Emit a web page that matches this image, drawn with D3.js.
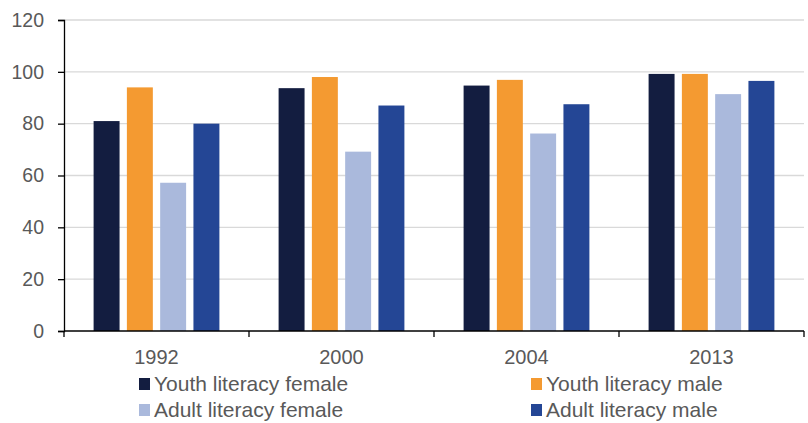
<!DOCTYPE html>
<html>
<head>
<meta charset="utf-8">
<script src="https://cdn.jsdelivr.net/npm/d3@7"></script>
<style>
  body { margin: 0; background: #fff; }
  text { font-family: "Liberation Sans", Arial, sans-serif; }
</style>
</head>
<body>
<div id="chart"></div>
<script>
// data
const years = ["1992", "2000", "2004", "2013"];
const seriesNames = ["Youth literacy female", "Youth literacy male", "Adult literacy female", "Adult literacy male"];
const youthFemale = [81, 93.7, 94.7, 99.2];
const youthMale = [94, 98, 96.9, 99.2];
const adultFemale = [57.2, 69.2, 76.2, 91.4];
const adultMale = [80, 87, 87.5, 96.5];
const yTicks = [0, 20, 40, 60, 80, 100, 120];

const colors = ["#131d40", "#f49a31", "#aab9dc", "#244695"];
const allSeries = [youthFemale, youthMale, adultFemale, adultMale];

const width = 808, height = 423;
const margin = {top: 20, right: 4, bottom: 92, left: 64};

var svg = d3.select("#chart")
    .append("svg")
    .attr("width", width)
    .attr("height", height);

var x = d3.scaleBand()
    .domain(years)
    .range([margin.left, width - margin.right])
    .paddingInner(0.32)
    .paddingOuter(0.16);

var x1 = d3.scaleBand()
    .domain(d3.range(seriesNames.length))
    .range([0, x.bandwidth()])
    .paddingInner(0.22);

var y = d3.scaleLinear()
    .domain([0, 120])
    .range([height - margin.bottom, margin.top]);

// gridlines
svg.append("g")
    .selectAll("line")
    .data(yTicks.slice(1))
    .join("line")
    .attr("x1", margin.left)
    .attr("x2", width - margin.right)
    .attr("y1", d => y(d))
    .attr("y2", d => y(d))
    .attr("stroke", "#d9d9d9")
    .attr("stroke-width", 1.3);

// bars
years.forEach(function (yr, i) {
    var g = svg.append("g").attr("transform", `translate(${x(yr)},0)`);
    g.selectAll("rect")
        .data(allSeries.map(s => s[i]))
        .join("rect")
        .attr("x", (d, j) => x1(j))
        .attr("width", x1.bandwidth())
        .attr("y", d => y(d))
        .attr("height", d => y(0) - y(d))
        .attr("fill", (d, j) => colors[j]);
});

// y axis
var yAxis = svg.append("g")
    .attr("transform", `translate(${margin.left},0)`)
    .call(d3.axisLeft(y).tickValues(yTicks).tickSize(6).tickPadding(14));
yAxis.select(".domain").attr("stroke", "#000").attr("stroke-width", 1.3);
yAxis.selectAll(".tick line").attr("stroke", "#000").attr("stroke-width", 1.3);
yAxis.selectAll("text").attr("fill", "#595959").style("font-size", "19.5px");

// x axis with ticks at category boundaries
var xAxisY = y(0);
svg.append("line")
    .attr("x1", margin.left).attr("x2", width - margin.right)
    .attr("y1", xAxisY).attr("y2", xAxisY)
    .attr("stroke", "#000").attr("stroke-width", 1.3);

var step = x.step();
var bounds = years.map(yr => x(yr) - step * x.paddingInner() / 2);
bounds.push(width - margin.right);
bounds[0] = margin.left;
svg.append("g").selectAll("line")
    .data(bounds)
    .join("line")
    .attr("x1", d => d).attr("x2", d => d)
    .attr("y1", xAxisY).attr("y2", xAxisY + 6)
    .attr("stroke", "#000").attr("stroke-width", 1.3);

svg.append("g").selectAll("text")
    .data(years)
    .join("text")
    .attr("x", d => x(d) + x.bandwidth() / 2)
    .attr("y", xAxisY + 33)
    .attr("text-anchor", "middle")
    .attr("fill", "#595959")
    .style("font-size", "20px")
    .text(d => d);

// legend
var legendPos = [[139, 378], [531, 378], [139, 404], [531, 404]];
var legend = svg.append("g").selectAll("g")
    .data(seriesNames)
    .join("g")
    .attr("transform", (d, i) => `translate(${legendPos[i][0]},${legendPos[i][1]})`);
legend.append("rect")
    .attr("width", 11).attr("height", 12)
    .attr("fill", (d, i) => colors[i]);
legend.append("text")
    .attr("x", 15).attr("y", 13)
    .attr("fill", "#595959")
    .style("font-size", "21px")
    .text(d => d);
</script>
</body>
</html>
